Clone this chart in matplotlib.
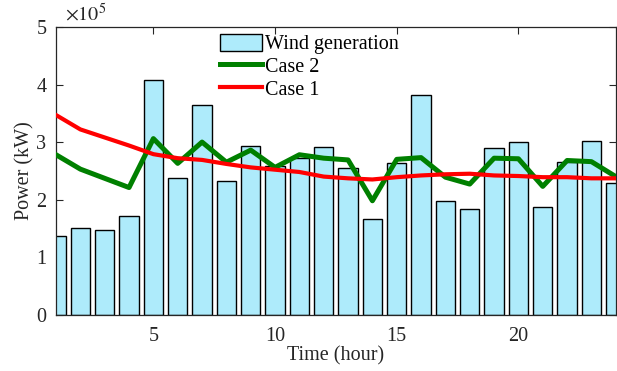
import numpy as np
import matplotlib
matplotlib.use("Agg")
import matplotlib.pyplot as plt
from matplotlib.ticker import FuncFormatter
from matplotlib.patches import Patch
from matplotlib.lines import Line2D

# Hourly data (kW)
hours = list(range(1, 25))
wind_generation = [1.36e5, 1.50e5, 1.48e5, 1.72e5, 4.08e5, 2.38e5, 3.64e5, 2.32e5,
                   2.93e5, 2.59e5, 2.73e5, 2.91e5, 2.55e5, 1.66e5, 2.63e5, 3.81e5,
                   1.98e5, 1.83e5, 2.89e5, 3.01e5, 1.87e5, 2.66e5, 3.02e5, 2.29e5]
case2 = [2.78e5, 2.53e5, 2.37e5, 2.21e5, 3.06e5, 2.63e5, 3.00e5, 2.65e5,
         2.86e5, 2.56e5, 2.78e5, 2.72e5, 2.69e5, 1.98e5, 2.70e5, 2.73e5,
         2.39e5, 2.27e5, 2.72e5, 2.71e5, 2.23e5, 2.68e5, 2.66e5, 2.40e5]
case1 = [3.47e5, 3.22e5, 3.08e5, 2.94e5, 2.79e5, 2.72e5, 2.69e5, 2.62e5,
         2.56e5, 2.52e5, 2.48e5, 2.40e5, 2.37e5, 2.35e5, 2.39e5, 2.42e5,
         2.44e5, 2.45e5, 2.42e5, 2.41e5, 2.39e5, 2.39e5, 2.37e5, 2.37e5]
x_ticks = [5, 10, 15, 20]
y_ticks = [0, 1e5, 2e5, 3e5, 4e5, 5e5]

plt.rcParams['font.family'] = ['Liberation Serif', 'DejaVu Serif']
plt.rcParams['mathtext.fontset'] = 'stix'

FS = 14.5
TXT = '#262626'

fig = plt.figure(figsize=(6.17, 3.71), dpi=100)
ax = fig.add_axes([0.0908, 0.1518, 0.9072, 0.7754])

bar_color = '#AEEBFB'
ax.bar(hours, wind_generation, width=0.8, color=bar_color, edgecolor='black',
       linewidth=1.0, zorder=2)
ax.plot(hours, case2, color='#008000', linewidth=3.6, zorder=3)
ax.plot(hours, case1, color='#FF0000', linewidth=3.0, zorder=4)

ax.set_xlim(1, 24)
ax.set_ylim(0, 5e5)
ax.set_xticks(x_ticks)
ax.set_yticks(y_ticks)
ax.yaxis.set_major_formatter(FuncFormatter(lambda v, p: f"{v/1e5:g}"))
ax.tick_params(direction='in', top=True, right=True, labelsize=FS,
               length=5, width=0.8, colors=TXT)
ax.tick_params(axis='x', pad=9)
ax.tick_params(axis='y', pad=7)
for s in ax.spines.values():
    s.set_linewidth(0.9)
    s.set_color(TXT)

ax.text(0.016, 1.005, r'$\times10^5$', transform=ax.transAxes, fontsize=FS,
        color=TXT, ha='left', va='bottom')

ax.set_xlabel('Time (hour)', fontsize=FS, color=TXT, labelpad=0)
ax.set_ylabel('Power (kW)', fontsize=FS, color=TXT, labelpad=1)

handles = [Patch(facecolor=bar_color, edgecolor='black', linewidth=1.0),
           Line2D([], [], color='#008000', linewidth=3.6),
           Line2D([], [], color='#FF0000', linewidth=3.0)]
labels = ['Wind generation', 'Case 2', 'Case 1']
ax.legend(handles, labels, loc='upper left', bbox_to_anchor=(0.28, 1.0),
          frameon=False, fontsize=FS, handlelength=2.1, handleheight=0.9,
          handletextpad=0.12, labelspacing=0.12, borderaxespad=0.2,
          borderpad=0.15)

fig.savefig('out.png', dpi=100)
